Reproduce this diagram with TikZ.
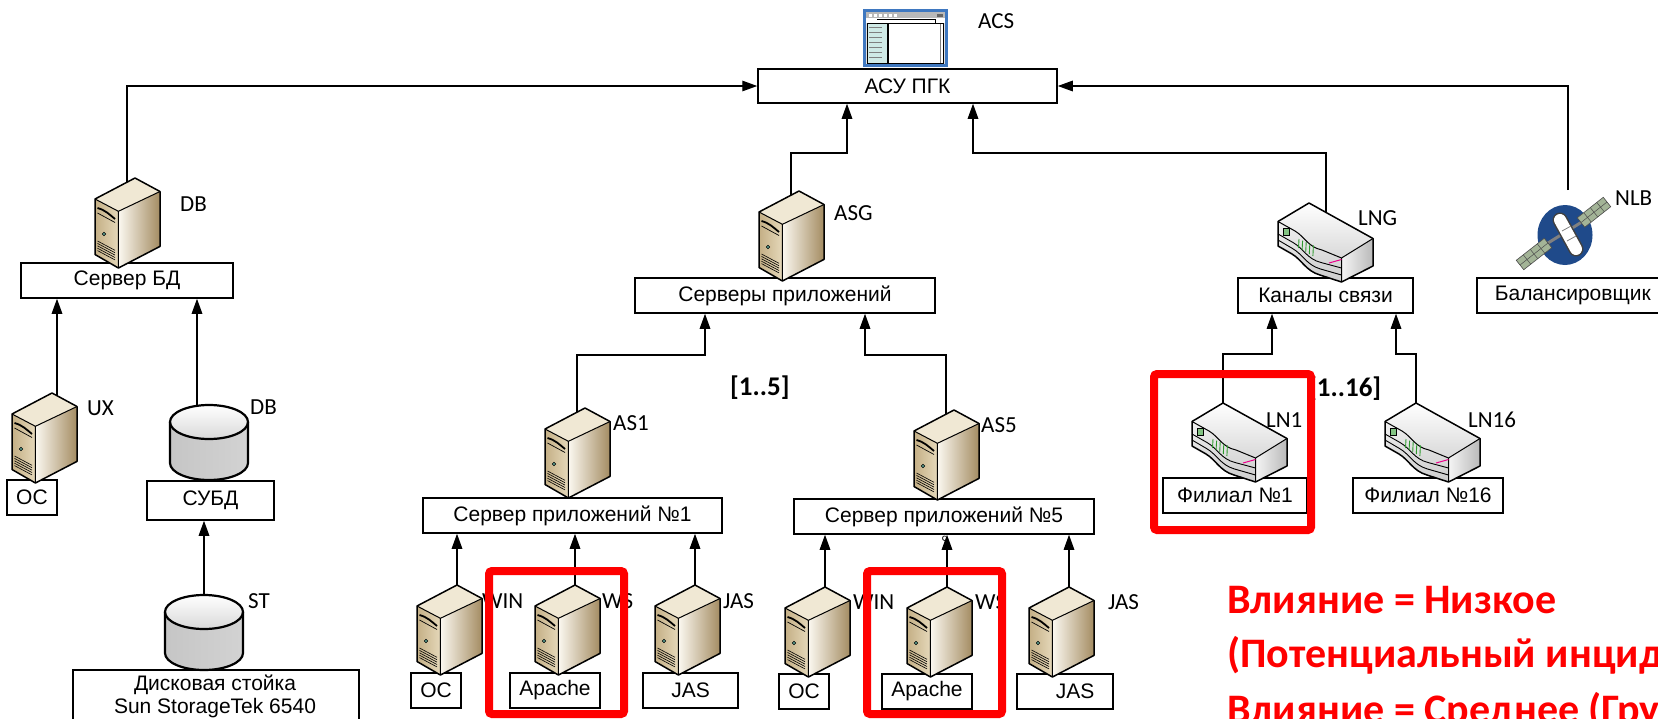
\documentclass[tikz,border=0pt]{standalone}
\usepackage{fontspec}
\usetikzlibrary{arrows.meta,calc}
\newfontfamily\arialf{Liberation Sans}
\newfontfamily\calf{Carlito}
\newcommand\bxf{\arialf\fontsize{21}{24}\selectfont}
\newcommand\lbf{\calf\fontsize{23}{26}\selectfont}
\newcommand\lbbf{\calf\bfseries\fontsize{27}{30}\selectfont}
\newcommand\redf{\calf\bfseries\fontsize{42}{48}\selectfont}
\definecolor{srvfrontA}{HTML}{C4AF85}
\definecolor{srvfrontB}{HTML}{E5D8BA}
\definecolor{srvsideA}{HTML}{FBF8F0}
\definecolor{srvsideB}{HTML}{A48C62}
\definecolor{srvtop}{HTML}{F0E8D4}
\definecolor{srvdot}{HTML}{5FA898}
\definecolor{winblue}{HTML}{3F78C0}
\definecolor{wincyan}{HTML}{CFEAE6}
\definecolor{satblue}{HTML}{1F4A8A}
\definecolor{panelg}{HTML}{A3B497}
\definecolor{ledgreen}{HTML}{2E9B2E}
\definecolor{redc}{HTML}{FF0000}
\tikzset{
  box/.style={draw=black, line width=1.5pt, fill=white, inner sep=0pt, font=\bxf, minimum height=35pt},
  boxtxt/.style={inner sep=0pt, font=\bxf, anchor=base},
  lbl/.style={font=\lbf, anchor=base west, inner sep=0pt},
  lblb/.style={font=\lbbf, anchor=base west, inner sep=0pt},
  redtxt/.style={font=\redf, text=redc, anchor=base west, inner sep=0pt},
  arr/.style={line width=1.4pt, -{Triangle[length=15pt,width=10.5pt]}},
  redbox/.style={draw=redc, line width=8pt, rounded corners=3pt},
  server/.pic={
    \coordinate (-top) at (40,0);
    \coordinate (-tl) at (32,4.2);
    \coordinate (-tr) at (45,2.7);
    \shade[left color=srvsideA, right color=srvsideB] (23.4,33.3) -- (65,13.5) -- (65,68.4) -- (23.4,90) -- cycle;
    \shade[left color=srvfrontA, right color=srvfrontB] (0,21) -- (23.4,33.3) -- (23.4,90) -- (0,76.5) -- cycle;
    \fill[srvtop] (0,21) -- (40,0) -- (65,13.5) -- (23.4,33.3) -- cycle;
    \draw[line width=1pt] (0,21) -- (23.4,33.3) -- (65,13.5) (23.4,33.3) -- (23.4,90);
    \draw[line width=1.5pt, line join=round] (0,21) -- (40,0) -- (65,13.5) -- (65,68.4) -- (23.4,90) -- (0,76.5) -- cycle;
    \draw[line width=1.8pt] (2.5,30) .. controls (10,32) and (14,36) .. (20,41);
    \draw[line width=0.7pt] (2.5,35) -- (20,44.5);
    \filldraw[fill=srvdot, draw=black, line width=0.5pt] (9,56) circle (1.8);
    \foreach \k in {0,...,4} \draw[line width=0.6pt] (2.5,{63+2.4*\k}) -- (20,{72.3+2.4*\k});
  },
  router/.pic={
    \coordinate (-top) at (31,0);
    \coordinate (-tc) at (48,9.4);
    \shade[top color=white, bottom color=gray!30] (0,18.5) -- (31,0) -- (95,35.5) -- (63.5,55) -- (44,47) .. controls (30,44) and (27,34) .. (17,28) -- cycle;
    \shade[left color=gray!8, right color=gray!55] (63.5,55) -- (95,35.5) -- (95,63) -- (63.5,79) -- cycle;
    \shade[top color=gray!12, bottom color=gray!40] (0,18.5) -- (17,28) .. controls (27,34) and (30,44) .. (44,47) -- (63.5,55) -- (63.5,79) -- (42,72) .. controls (28,68) and (24,57) .. (14,51) -- (0,43) -- cycle;
    \draw[line width=0.9pt] (0,31) -- (15,39.5) .. controls (25.5,45.5) and (29,56) .. (43,59.5) -- (63.5,65);
    \draw[line width=0.9pt] (0,37) -- (14.5,45.5) .. controls (25,51.5) and (28.5,62) .. (42.5,66) -- (63.5,72);
    \draw[line width=1pt] (0,18.5) -- (17,28) .. controls (27,34) and (30,44) .. (44,47) -- (63.5,55) -- (95,35.5) (63.5,55) -- (63.5,79);
    \draw[line width=1.5pt, line join=round] (0,18.5) -- (31,0) -- (95,35.5) -- (95,63) -- (63.5,79) -- (42,72) .. controls (28,68) and (24,57) .. (14,51) -- (0,43) -- cycle;
    \filldraw[fill=ledgreen!60, draw=black, line width=0.6pt] (5,25) rectangle (11,32);
    \foreach \k in {0,...,4} \draw[ledgreen, line width=0.9pt] ({21+3.6*\k},{36+1.6*\k}) -- ({20.5+3.6*\k},{45+2*\k});
    \draw[magenta, line width=1pt] (51,60) -- (63.5,56.5);
  },
  cyl/.pic={
    \coordinate (-top) at (39,0);
    \coordinate (-topl) at (27,0.8);
    \shade[left color=gray!45, middle color=gray!8, right color=gray!35] (0,17) -- (0,58) arc[start angle=180, end angle=0, x radius=39, y radius=17] -- (78,17) -- cycle;
    \shade[top color=white, bottom color=gray!30] (39,17) ellipse[x radius=39, y radius=17];
    \draw[line width=2.2pt] (0,17) -- (0,58) arc[start angle=180, end angle=0, x radius=39, y radius=17] -- (78,17);
    \draw[line width=2.2pt] (39,17) ellipse[x radius=39, y radius=17];
  },
  window/.pic={
    \fill[winblue] (0,0) rectangle (85,58);
    \fill[gray!25] (3,3) rectangle (82,55);
    \fill[gray!55] (3,3) rectangle (82,9);
    \foreach \i in {0,...,5} \fill[white] ({6+5*\i},4.5) rectangle ++(3,3);
    \fill[gray!80!black] (74,4.5) rectangle (80,7.5);
    \fill[white] (3,9) rectangle (82,14);
    \draw[black, line width=0.6pt] (14,10.5) -- (72,10.5) -- (72,14);
    \fill[wincyan] (4,14) rectangle (25,54);
    \foreach \i in {0,...,6} \draw[gray, line width=0.6pt] (6,{18+5*\i}) -- (19,{18+5*\i});
    \fill[white] (25,14) rectangle (80,54);
    \draw[black, line width=1.2pt] (25,14) -- (25,54);
    \draw[gray, line width=0.8pt] (77.5,14) -- (77.5,54);
    \draw[black, line width=0.8pt] (4,14) rectangle (80,54);
  },
  satellite/.pic={
    \coordinate (-top) at (3,-45);
    \fill[satblue] (0,0) ellipse[x radius=27.5, y radius=30];
    \draw[line width=3pt, gray] (-17,8) -- (16,-12.5);
    \filldraw[fill=panelg, draw=gray!60!black, line width=0.6pt] (-48.75,25.3) -- (-20.75,3.3) -- (-13.25,12.7) -- (-41.25,34.7) -- cycle;
    \draw[gray!60!black, line width=0.5pt] (-45,30) -- (-17,8) (-41.75,19.8) -- (-34.25,29.2) (-34.75,14.3) -- (-27.25,23.7) (-27.75,8.8) -- (-20.25,18.2);
    \filldraw[fill=panelg, draw=gray!60!black, line width=0.6pt] (12.25,-17.2) -- (38.25,-37.7) -- (45.75,-28.3) -- (19.75,-7.8) -- cycle;
    \draw[gray!60!black, line width=0.5pt] (16,-12.5) -- (42,-33) (18.75,-22.3) -- (26.25,-12.9) (25.25,-27.45) -- (32.75,-18.05) (31.75,-32.6) -- (39.25,-23.2);
    \draw[line width=15pt, line cap=round, black!75] (-5,-15) -- (11,14);
    \draw[line width=12pt, line cap=round, white] (-5,-15) -- (11,14);
    \draw[gray, line width=0.8pt] (-3,-4) -- (6,-9) (2,6) -- (11,1);
  }
}
\begin{document}
\begin{tikzpicture}[x=1pt,y=-1pt]
\useasboundingbox (0,0) rectangle (1658,718);
\clip (0,0) rectangle (1658,718);
\fill[white] (0,0) rectangle (1658,718);

% boxes
\node[box, minimum width=299pt, minimum height=34pt] (acsbox) at (907.5,86) {АСУ ПГК};
\node[box, minimum width=212pt] (sbd) at (127,280.5) {Сервер БД};
\node[box, minimum width=50pt] (oc0) at (32,497.5) {ОС};
\node[box, minimum width=127pt, minimum height=39pt] (subd) at (210.5,500.5) {СУБД};
\node[box, anchor=north west, minimum width=286pt, minimum height=70pt] (disk) at (72,669) {};
\node[boxtxt] (disk1) at (215,690) {Дисковая стойка};
\node[boxtxt] (disk2) at (215,713) {Sun StorageTek 6540};
\node[box, minimum width=300pt] (asgbox) at (785,295.5) {Серверы приложений};
\node[box, minimum width=299pt] (as1box) at (572.5,515.5) {Сервер приложений №1};
\node[box, minimum width=300pt] (as5box) at (944,516.5) {Сервер приложений №5};
\node[box, minimum width=50pt] (oc1) at (436,690.5) {ОС};
\node[box, minimum width=90pt] (ap1) at (555,690.5) {Apache};
\node[box, minimum width=95pt] (jas1) at (690.5,690.5) {JAS};
\node[box, minimum width=50pt] (oc5) at (804,691.5) {ОС};
\node[box, minimum width=90pt] (ap5) at (927,691.5) {Apache};
\node[box, minimum width=96pt] (jas5) at (1065,691.5) {\hspace*{20pt}JAS};
\node[box, minimum width=175pt] (kan) at (1325.5,295.5) {Каналы связи};
\node[box, minimum width=144pt] (fil1) at (1235,495.5) {Филиал №1};
\node[box, minimum width=150pt] (fil16) at (1428,495.5) {Филиал №16};
\node[box, anchor=west, minimum width=192pt] (bal) at (1476,295.5) {Балансировщик};

% icons
\pic (acsicon) at (863,9) {window};
\pic (db) at (95,178) {server};
\pic (ux) at (12,393) {server};
\pic (dbc) at (170,405) {cyl};
\pic (st) at (165,595) {cyl};
\pic (asg) at (759,191) {server};
\pic (as1) at (545,408) {server};
\pic (as5) at (914,410) {server};
\pic (oc1s) at (417,585) {server};
\pic (ws1s) at (535,585) {server};
\pic (jas1s) at (655,585) {server};
\pic (oc5s) at (785,587) {server};
\pic (ws5s) at (907,587) {server};
\pic (jas5s) at (1029,587) {server};
\pic (lng) at (1278,203) {router};
\pic (ln1) at (1192,403) {router};
\pic (ln16) at (1385,403) {router};
\pic (nlb) at (1565,235) {satellite};

% elbow points
\coordinate (e1) at (847,153);
\coordinate (e2) at (973,153);
\coordinate (e3) at (705,355);
\coordinate (e4) at (865,355);
\coordinate (e5) at (1272,354);
\coordinate (e6) at (1396,354);

% connectors
\draw[arr] (db-tl) |- (acsbox.west);
\draw[arr] (nlb-top) |- (acsbox.east);
\draw[arr] (asg-tl) |- (e1) -- (e1 |- acsbox.south);
\draw[arr] (lng-tc) |- (e2) -- (e2 |- acsbox.south);
\draw[arr] (as1-tl) |- (e3) -- (e3 |- asgbox.south);
\draw[arr] (as5-tl) |- (e4) -- (e4 |- asgbox.south);
\draw[arr] (ln1-top) |- (e5) -- (e5 |- kan.south);
\draw[arr] (ln16-top) |- (e6) -- (e6 |- kan.south);
\draw[arr] (ux-tr) -- (ux-tr |- sbd.south);
\draw[arr] (dbc-topl) -- (dbc-topl |- sbd.south);
\draw[arr] (st-top) -- (st-top |- subd.south);
\draw[arr] (oc1s-top) -- (oc1s-top |- as1box.south);
\draw[arr] (ws1s-top) -- (ws1s-top |- as1box.south);
\draw[arr] (jas1s-top) -- (jas1s-top |- as1box.south);
\draw[arr] (oc5s-top) -- (oc5s-top |- as5box.south);
\draw[arr] (ws5s-top) -- (ws5s-top |- as5box.south);
\draw[arr] (jas5s-top) -- (jas5s-top |- as5box.south);

% labels
\node[lbl] (lACS) at (978,28) {ACS};
\node[lbl] (lDB) at (180,211) {DB};
\node[lbl] (lUX) at (87,415) {UX};
\node[lbl] (lDB2) at (250,414) {DB};
\node[lbl] (lST) at (248,608) {ST};
\node[lbl] (lASG) at (834,220) {ASG};
\node[lbl] (lAS1) at (613,430) {AS1};
\node[lbl] (lAS5) at (981,432) {AS5};
\node[lbl] (lWIN1) at (482,608) {WIN};
\node[lbl] (lWS1) at (602,608) {WS};
\node[lbl] (lJAS1) at (723,608) {JAS};
\node[lbl] (lWIN5) at (853,609) {WIN};
\node[lbl] (lWS5) at (975,609) {WS};
\node[lbl] (lJAS5) at (1108,609) {JAS};
\node[lbl] (lLNG) at (1358,225) {LNG};
\node[lbl] (lLN1) at (1266,427) {LN1};
\node[lbl] (lLN16) at (1468,427) {LN16};
\node[lbl] (lNLB) at (1615,205) {NLB};
\node[lblb] (r15) at (730,395) {[1..5]};
\node[lblb] (r116) at (1308,396) {[1..16]};
\node[font=\calf\fontsize{11}{11}\selectfont, inner sep=0pt] (sig) at (944,540) {ς};

% red text
\node[redtxt] (t1) at (1227,613) {Влияние = Низкое};
\node[redtxt] (t2) at (1227,667) {(Потенциальный инцидент)};
\node[redtxt] (t3) at (1227,723) {Влияние = Среднее (Группа)};

% red frames
\draw[redbox] (489,571) rectangle (624,714);
\draw[redbox] (867,571) rectangle (1002,714);
\draw[redbox] (1154,374) rectangle (1311,530);
\end{tikzpicture}
\end{document}
